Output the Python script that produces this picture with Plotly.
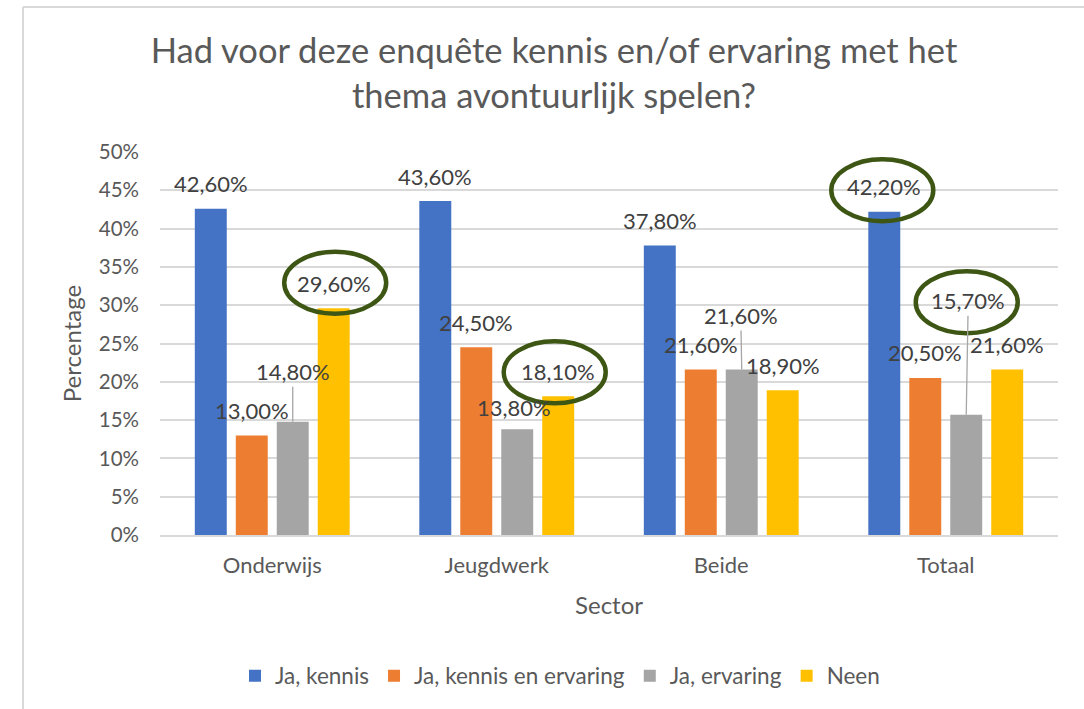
import plotly.graph_objects as go

# ---- data ----
categories = ["Onderwijs", "Jeugdwerk", "Beide", "Totaal"]
series_names = ["Ja, kennis", "Ja, kennis en ervaring", "Ja, ervaring", "Neen"]
ja_kennis = [42.6, 43.6, 37.8, 42.2]
ja_kennis_ervaring = [13.0, 24.5, 21.6, 20.5]
ja_ervaring = [14.8, 13.8, 21.6, 15.7]
neen = [29.6, 18.1, 18.9, 21.6]
y_ticks = [0, 5, 10, 15, 20, 25, 30, 35, 40, 45, 50]
y_tick_labels = ["0%", "5%", "10%", "15%", "20%", "25%", "30%", "35%", "40%", "45%", "50%"]

series_values = [ja_kennis, ja_kennis_ervaring, ja_ervaring, neen]

# ---- styles ----
colors = ["#4472C4", "#ED7D31", "#A5A5A5", "#FFC000"]
FONT = "Lato"
TEXT = "#595959"
LABEL = "#404040"
GRID = "#D9D9D9"
OLIVE = "#3d5614"

BARGAP = 0.27
BARGROUPGAP = 0.22

# label offsets in pixels (dx, dy) relative to bar top centre; leader flag
default_off = (0, -25, False)
custom_off = {
    (2, 0): (0, -50, True),
    (2, 1): (-3, -22, False),
    (2, 2): (-1, -54, True),
    (2, 3): (2, -114, True),
}
# circled labels: (series, category) -> ellipse centre offset from label centre
highlights = {(3, 0): (1.5, -0.5), (3, 1): (-3.5, 1), (0, 3): (-2, 3.5), (2, 3): (-1.5, 1.5)}
ELL_RX, ELL_RY = 51, 31

fig = go.Figure()
for name, vals, col in zip(series_names, series_values, colors):
    fig.add_trace(go.Bar(name=name, x=categories, y=vals, marker=dict(color=col, line=dict(width=0))))

slot = (1 - BARGAP) / len(series_values)
annotations = []
shapes = []
for k, vals in enumerate(series_values):
    for i, v in enumerate(vals):
        xc = i + (k - (len(series_values) - 1) / 2) * slot
        dx, dy, leader = custom_off.get((k, i), default_off)
        txt = f"{v:.2f}".replace(".", ",") + "%"
        if leader:
            annotations.append(dict(
                x=xc, y=v, xref="x", yref="y", text=txt, showarrow=True,
                ax=dx, ay=dy, axref="pixel", ayref="pixel", arrowhead=0,
                arrowwidth=1.3, arrowcolor="#A6A6A6", standoff=0, startstandoff=0,
                font=dict(family=FONT, size=22, color=LABEL)))
        else:
            annotations.append(dict(
                x=xc, y=v, xref="x", yref="y", text=txt, showarrow=False,
                xshift=dx, yshift=-dy, yanchor="middle", xanchor="center",
                font=dict(family=FONT, size=22, color=LABEL)))
        if (k, i) in highlights:
            ex, ey = highlights[(k, i)]
            cx, cy = dx + ex, -(dy + ey)
            shapes.append(dict(
                type="circle", xref="x", yref="y",
                xsizemode="pixel", ysizemode="pixel", xanchor=xc, yanchor=v,
                x0=cx - ELL_RX, x1=cx + ELL_RX, y0=cy - ELL_RY, y1=cy + ELL_RY,
                line=dict(color=OLIVE, width=4.5)))

# chart-area border (top and left edges)
shapes.append(dict(type="line", xref="paper", yref="paper",
                   x0=(23 - 160) / 898, x1=1.2, y0=(535 - 7) / 383, y1=(535 - 7) / 383,
                   line=dict(color=GRID, width=2)))
shapes.append(dict(type="line", xref="paper", yref="paper",
                   x0=(23 - 160) / 898, x1=(23 - 160) / 898, y0=(535 - 7) / 383, y1=-0.6,
                   line=dict(color=GRID, width=2)))

fig.update_layout(
    width=1084, height=709,
    margin=dict(l=160, r=26, t=152, b=174),
    paper_bgcolor="white", plot_bgcolor="white",
    font=dict(family=FONT, color=TEXT),
    barmode="group", bargap=BARGAP, bargroupgap=BARGROUPGAP,
    title=dict(text="Had voor deze enquête kennis en/of ervaring met het<br>thema avontuurlijk spelen?",
               x=554 / 1084, xanchor="center", xref="container",
               y=1 - 63 / 709, yanchor="top", yref="container",
               font=dict(family=FONT, size=34.5, color=TEXT)),
    xaxis=dict(showgrid=False, showline=True, linecolor=GRID, linewidth=1.5,
               ticks="", tickfont=dict(family=FONT, size=22, color=TEXT),
               ticklabelstandoff=10,
               title=dict(text="Sector", standoff=20, font=dict(family=FONT, size=24, color=TEXT))),
    yaxis=dict(range=[0, 50], tickmode="array", tickvals=y_ticks, ticktext=y_tick_labels,
               showgrid=True, gridcolor=GRID, gridwidth=1.5, zeroline=False, showline=False,
               tickfont=dict(family=FONT, size=20.5, color=TEXT), ticklabelstandoff=20,
               title=dict(text="Percentage", standoff=10, font=dict(family=FONT, size=24, color=TEXT))),
    legend=dict(orientation="h", x=(560 - 160) / 898, xanchor="center",
                y=(535 - 676) / 383, yanchor="middle",
                font=dict(family=FONT, size=22.5, color=TEXT), traceorder="normal"),
    annotations=annotations, shapes=shapes,
    showlegend=True,
)

fig.write_html("out.html", config={"displayModeBar": False},
               post_script="document.body.style.margin='0px';")
